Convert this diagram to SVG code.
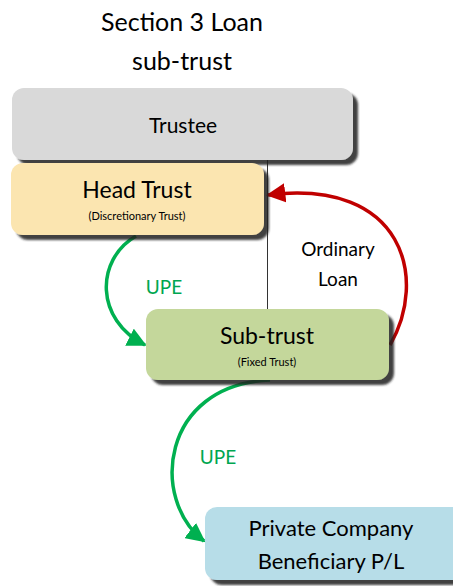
<svg xmlns="http://www.w3.org/2000/svg" width="453" height="586" viewBox="0 0 453 586">
  <style>
    text { font-family: Lato, "Liberation Sans", sans-serif; fill: #000; text-anchor: middle; }
    .title { font-size: 25px; }
    .main { font-size: 21px; }
    .big { font-size: 23px; }
    .pc { font-size: 22px; }
    .sub { font-size: 11px; }
    .upe { font-size: 19px; fill: #00a650; }
    .loan { font-size: 19px; }
    .box { filter: url(#shadow); }
  </style>
  <defs>
    <filter id="shadow" x="-10%" y="-10%" width="130%" height="140%">
      <feDropShadow dx="5" dy="5" stdDeviation="1.2" flood-color="#1a1a1a" flood-opacity="0.85"/>
    </filter>
    <marker id="arrowGreen" viewBox="0 0 10 10" refX="9" refY="5" markerWidth="5.5" markerHeight="5.5" orient="auto" markerUnits="strokeWidth">
      <path d="M0,0 L10,5 L0,10 z" fill="#00b050"/>
    </marker>
    <marker id="arrowRed" viewBox="0 0 10 10" refX="9" refY="5" markerWidth="5.5" markerHeight="5.5" orient="auto" markerUnits="strokeWidth">
      <path d="M0,0 L10,5 L0,10 z" fill="#c00000"/>
    </marker>
  </defs>

  <g id="title">
    <text class="title" x="182" y="31">Section 3 Loan</text>
    <text class="title" x="182" y="70">sub-trust</text>
  </g>

  <g id="connectors">
    <line x1="267.5" y1="158" x2="267.5" y2="310" stroke="#333" stroke-width="1"/>
    <path d="M390,345 C428,280 405,178 268,195" fill="none" stroke="#c00000" stroke-width="3.5" marker-end="url(#arrowRed)"/>
    <path d="M136,236 C95,260 95,320 145,345" fill="none" stroke="#00b050" stroke-width="3.5" marker-end="url(#arrowGreen)"/>
    <path d="M270,380 C160,385 150,500 204,541" fill="none" stroke="#00b050" stroke-width="3.5" marker-end="url(#arrowGreen)"/>
  </g>

  <g id="trustee">
    <rect class="box" x="12" y="88" width="341" height="72" rx="12" fill="#d9d9d9"/>
    <text class="main" x="183" y="133">Trustee</text>
  </g>

  <g id="head-trust">
    <rect class="box" x="11" y="163" width="253" height="72" rx="12" fill="#fbe5b0"/>
    <text class="big" x="137" y="198">Head Trust</text>
    <text class="sub" x="137" y="220">(Discretionary Trust)</text>
  </g>

  <g id="sub-trust">
    <rect class="box" x="146" y="309" width="243" height="71" rx="12" fill="#c4d79b"/>
    <text class="big" x="267" y="344">Sub-trust</text>
    <text class="sub" x="267" y="366">(Fixed Trust)</text>
  </g>

  <g id="private-company">
    <rect class="box" x="205" y="507" width="260" height="73" rx="12" fill="#b7dde8"/>
    <text class="pc" x="331" y="536">Private Company</text>
    <text class="pc" x="331" y="569">Beneficiary P/L</text>
  </g>

  <g id="labels">
    <text class="upe" x="164" y="294">UPE</text>
    <text class="upe" x="218" y="464">UPE</text>
    <text class="loan" x="338" y="256">Ordinary</text>
    <text class="loan" x="338" y="286">Loan</text>
  </g>
</svg>
